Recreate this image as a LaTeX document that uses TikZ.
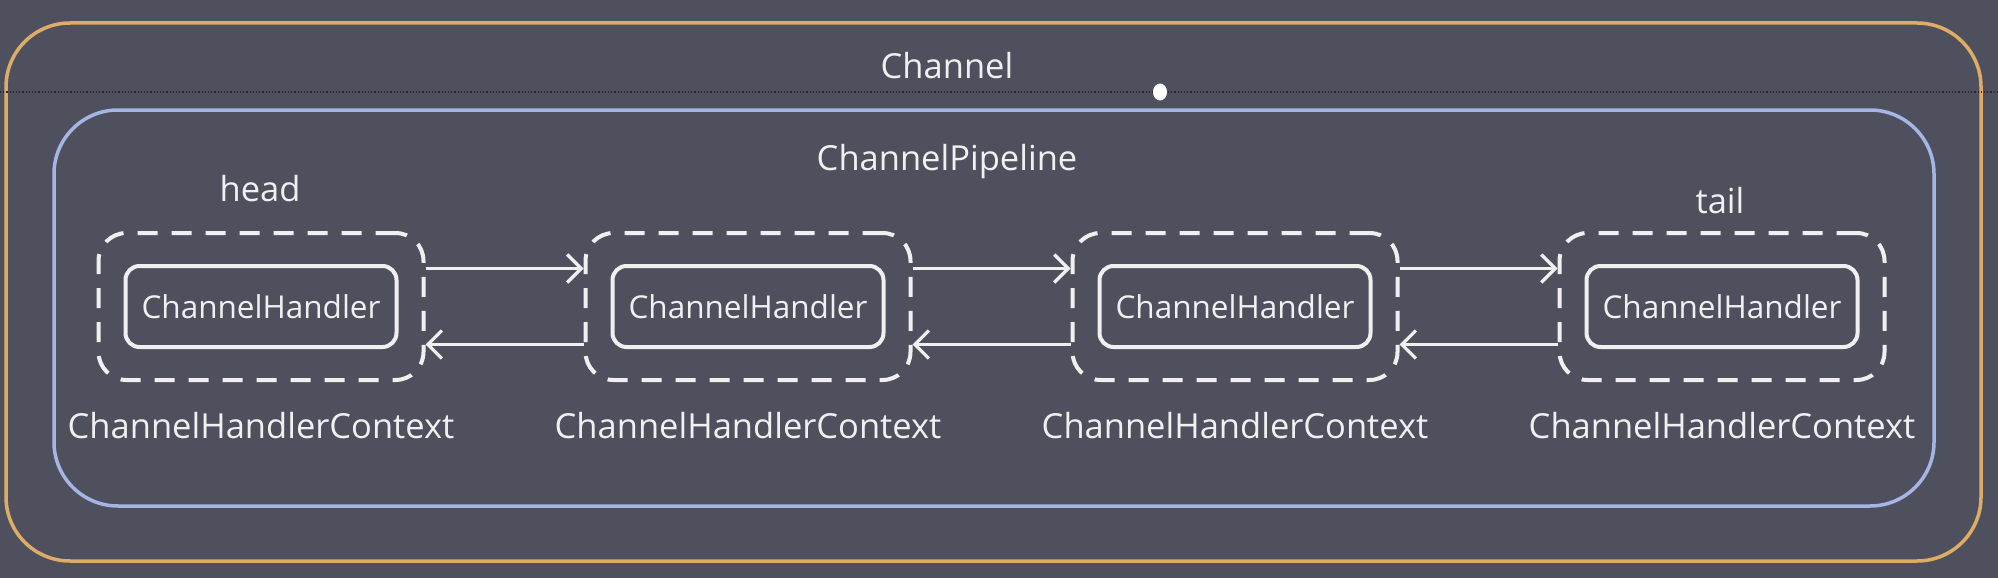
\documentclass[tikz,border=0pt]{standalone}
\usepackage{fontspec}
\setmainfont{Open Sans}
\usetikzlibrary{arrows.meta,shapes.geometric}
\definecolor{bg}{RGB}{78,81,93}
\definecolor{orangeb}{RGB}{222,172,102}
\definecolor{blueb}{RGB}{165,182,228}
\definecolor{fg}{RGB}{240,240,240}
\begin{document}
\begin{tikzpicture}[x=1pt,y=-1pt,
  ctx/.style={draw=fg, line width=4pt, dash pattern=on 20pt off 14pt, rounded corners=28pt, minimum width=325pt, minimum height=147pt, inner sep=0pt},
  hnd/.style={draw=fg, line width=4pt, rounded corners=14pt, minimum width=271pt, minimum height=81pt, inner sep=0pt, text=fg, font=\fontsize{31.5}{36}\selectfont},
  lbl/.style={text=fg, inner sep=0pt, font=\fontsize{34.5}{40}\selectfont},
  link/.style={draw=fg, line width=3.2pt, -{Straight Barb[length=14pt,width=28pt,line width=3.2pt]}},
  outerbox/.style={draw=orangeb, line width=3.5pt, rounded corners=64pt, inner sep=0pt},
  pipebox/.style={draw=blueb, line width=3.5pt, rounded corners=64pt, inner sep=0pt}
]
\useasboundingbox (0,0) rectangle (1998,578);
\fill[bg] (0,0) rectangle (1998,578);

\node[outerbox, minimum width=1975pt, minimum height=538pt] (channel) at (993.5,292) {};
\node[pipebox, minimum width=1880pt, minimum height=396pt] (pipe) at (994,308) {};

\draw[black!85, line width=1.2pt, dotted] (0,92) -- (1998,92);
\node[fill=white, ellipse, inner sep=0pt, minimum width=14pt, minimum height=17pt] (dot) at (1160,92) {};

\node[lbl] (channellbl) at (947,66) {Channel};
\node[lbl] (pipelbl) at (947,162) {ChannelPipeline};
\node[lbl] (headlbl) at (260,189) {head};
\node[lbl] (taillbl) at (1720,201) {tail};

\foreach \i/\x in {1/261,2/748,3/1235,4/1722}{
  \node[ctx] (c\i) at (\x,306.5) {};
  \node[hnd] (h\i) at (\x,306.5) {ChannelHandler};
  \node[lbl] (l\i) at (\x,426) {ChannelHandlerContext};
}

\foreach \a/\b in {1/2,2/3,3/4}{
  \draw[link] ([yshift=38pt]c\a.east) -- ([yshift=38pt]c\b.west);
  \draw[link] ([yshift=-38pt]c\b.west) -- ([yshift=-38pt]c\a.east);
}
\end{tikzpicture}
\end{document}
